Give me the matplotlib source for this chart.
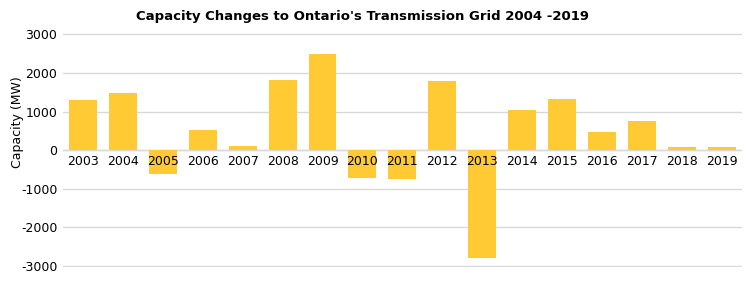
import numpy as np
import matplotlib
matplotlib.use("Agg")
import matplotlib.pyplot as plt

years = ["2003", "2004", "2005", "2006", "2007", "2008", "2009", "2010", "2011",
         "2012", "2013", "2014", "2015", "2016", "2017", "2018", "2019"]
capacity = [1290, 1470, -610, 520, 100, 1820, 2480, -720, -750,
            1780, -2790, 1030, 1330, 465, 755, 85, 75]
yticks = [-3000, -2000, -1000, 0, 1000, 2000, 3000]

plt.rcParams['font.family'] = ['DejaVu Sans']

fig = plt.figure(figsize=(7.5, 2.84), dpi=100)
ax = fig.add_axes([0.084, 0.06, 0.905, 0.823])

x = np.arange(len(years))
ax.bar(x, capacity, width=0.7, color="#FFCA33", zorder=2)

ax.set_xlim(-0.5, len(years) - 0.5)
ax.set_ylim(-3030, 3030)
ax.set_yticks(yticks)
ax.set_yticklabels([str(v) for v in yticks], fontsize=9)
ax.grid(axis="y", color="#D9D9D9", linewidth=1, zorder=0)
ax.axhline(0, color="#D9D9D9", linewidth=1, zorder=1)

for s in ax.spines.values():
    s.set_visible(False)
ax.tick_params(axis="both", length=0)
ax.tick_params(axis="y", pad=4)
ax.set_xticks([])

# year labels sit right under the zero line, over the negative bars
for xi, lab in zip(x, years):
    ax.text(xi, -140, lab, ha="center", va="top", fontsize=9, zorder=3)

ax.set_ylabel("Capacity (MW)", fontsize=9)
ax.yaxis.set_label_coords(-0.058, 0.62)
fig.text(0.484, 0.942, "Capacity Changes to Ontario's Transmission Grid 2004 -2019",
         ha="center", va="center", fontsize=9.5, fontweight="bold")

fig.savefig("out.png", dpi=100)
